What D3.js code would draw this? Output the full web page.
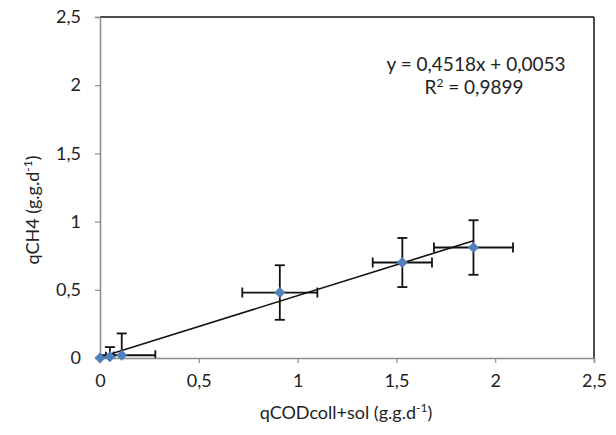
<!DOCTYPE html>
<html>
<head>
<meta charset="utf-8">
<script src="https://cdn.jsdelivr.net/npm/d3@7"></script>
<style>
  body { margin: 0; background: #fff; }
  svg { display: block; }
  text { font-family: Lato, "Open Sans", sans-serif; fill: #222; }
</style>
</head>
<body>
<svg id="chart" width="616" height="435"></svg>
<script>
// ---- data ----
const xValues = [0, 0.05, 0.11, 0.91, 1.53, 1.89];
const yValues = [0, 0.01, 0.02, 0.48, 0.70, 0.81];
const xErrors = [0, 0.02, 0.17, 0.19, 0.15, 0.20];
const yErrors = [0, 0.07, 0.16, 0.20, 0.18, 0.20];
const xTicks = [0, 0.5, 1, 1.5, 2, 2.5];
const yTicks = [0, 0.5, 1, 1.5, 2, 2.5];
const slope = 0.4518;
const intercept = 0.0053;
const equationText = "y = 0,4518x + 0,0053";
const r2Value = "0,9899";

const fmt = v => String(v).replace(".", ",");

const svg = d3.select("#chart");
const plotL = 100, plotR = 594, plotT = 17, plotB = 358;

const x = d3.scaleLinear().domain([0, 2.5]).range([plotL, plotR]);
const y = d3.scaleLinear().domain([0, 2.5]).range([plotB, plotT]);

svg.append("defs").append("clipPath").attr("id", "plotclip")
  .append("rect").attr("x", plotL).attr("y", plotT).attr("width", plotR - plotL).attr("height", plotB - plotT);

// frame: top and right borders
svg.append("line").attr("x1", plotL).attr("x2", plotR).attr("y1", plotT).attr("y2", plotT)
  .attr("stroke", "#111").attr("stroke-width", 1.5);
svg.append("line").attr("x1", plotR).attr("x2", plotR).attr("y1", plotT).attr("y2", plotB)
  .attr("stroke", "#111").attr("stroke-width", 1.5);

// axes
const xAxis = svg.append("g").attr("transform", `translate(0,${plotB})`)
  .call(d3.axisBottom(x).tickValues(xTicks).tickFormat(fmt).tickSize(5).tickPadding(11));
const yAxis = svg.append("g").attr("transform", `translate(${plotL},0)`)
  .call(d3.axisLeft(y).tickValues(yTicks).tickFormat(fmt).tickSize(5).tickPadding(14));
[xAxis, yAxis].forEach(g => {
  g.select(".domain").attr("stroke", "#8c8c8c").attr("stroke-width", 1.5);
  g.selectAll(".tick line").attr("stroke", "#8c8c8c").attr("stroke-width", 1.2);
  g.selectAll(".tick text").style("font-size", "18px").style("font-family", "Lato, 'Open Sans', sans-serif").attr("fill", "#222");
});

const plot = svg.append("g").attr("clip-path", "url(#plotclip)");

// trend line
const xMax = d3.max(xValues);
plot.append("line")
  .attr("x1", x(0)).attr("y1", y(intercept))
  .attr("x2", x(xMax)).attr("y2", y(slope * xMax + intercept))
  .attr("stroke", "#111").attr("stroke-width", 1.6);

// error bars
const data = xValues.map((v, i) => ({x: v, y: yValues[i], ex: xErrors[i], ey: yErrors[i]}));
const cap = 5;
const eb = plot.append("g").attr("stroke", "#111").attr("stroke-width", 1.8).attr("fill", "none");
data.forEach(d => {
  if (d.ex > 0) {
    eb.append("line").attr("x1", x(d.x - d.ex)).attr("x2", x(d.x + d.ex)).attr("y1", y(d.y)).attr("y2", y(d.y));
    eb.append("line").attr("x1", x(d.x - d.ex)).attr("x2", x(d.x - d.ex)).attr("y1", y(d.y) - cap).attr("y2", y(d.y) + cap);
    eb.append("line").attr("x1", x(d.x + d.ex)).attr("x2", x(d.x + d.ex)).attr("y1", y(d.y) - cap).attr("y2", y(d.y) + cap);
  }
  if (d.ey > 0) {
    eb.append("line").attr("x1", x(d.x)).attr("x2", x(d.x)).attr("y1", y(d.y - d.ey)).attr("y2", y(d.y + d.ey));
    eb.append("line").attr("x1", x(d.x) - cap).attr("x2", x(d.x) + cap).attr("y1", y(d.y - d.ey)).attr("y2", y(d.y - d.ey));
    eb.append("line").attr("x1", x(d.x) - cap).attr("x2", x(d.x) + cap).attr("y1", y(d.y + d.ey)).attr("y2", y(d.y + d.ey));
  }
});

// markers
svg.append("g").selectAll("path").data(data).join("path")
  .attr("d", d3.symbol().type(d3.symbolDiamond2).size(70))
  .attr("transform", d => `translate(${x(d.x)},${y(d.y)})`)
  .attr("fill", "#4f81bd").attr("stroke", "#4a7ab5").attr("stroke-width", 0.5);

// equation
svg.append("text").attr("x", 476).attr("y", 71).attr("text-anchor", "middle")
  .style("font-size", "19px").text(equationText);
const r2 = svg.append("text").attr("x", 474).attr("y", 94).attr("text-anchor", "middle")
  .style("font-size", "19px");
r2.append("tspan").text("R");
r2.append("tspan").attr("dy", -7).style("font-size", "12px").text("2");
r2.append("tspan").attr("dy", 7).text(" = " + r2Value);

// axis titles
const xt = svg.append("text").attr("x", 346).attr("y", 419).attr("text-anchor", "middle")
  .style("font-size", "18px");
xt.append("tspan").text("qCODcoll+sol (g.g.d");
xt.append("tspan").attr("dy", -7).style("font-size", "12px").text("-1");
xt.append("tspan").attr("dy", 7).text(")");

const yt = svg.append("text").attr("transform", "translate(39,210) rotate(-90)").attr("text-anchor", "middle")
  .style("font-size", "18px");
yt.append("tspan").text("qCH4 (g.g.d");
yt.append("tspan").attr("dy", -7).style("font-size", "12px").text("-1");
yt.append("tspan").attr("dy", 7).text(")");
</script>
</body>
</html>
